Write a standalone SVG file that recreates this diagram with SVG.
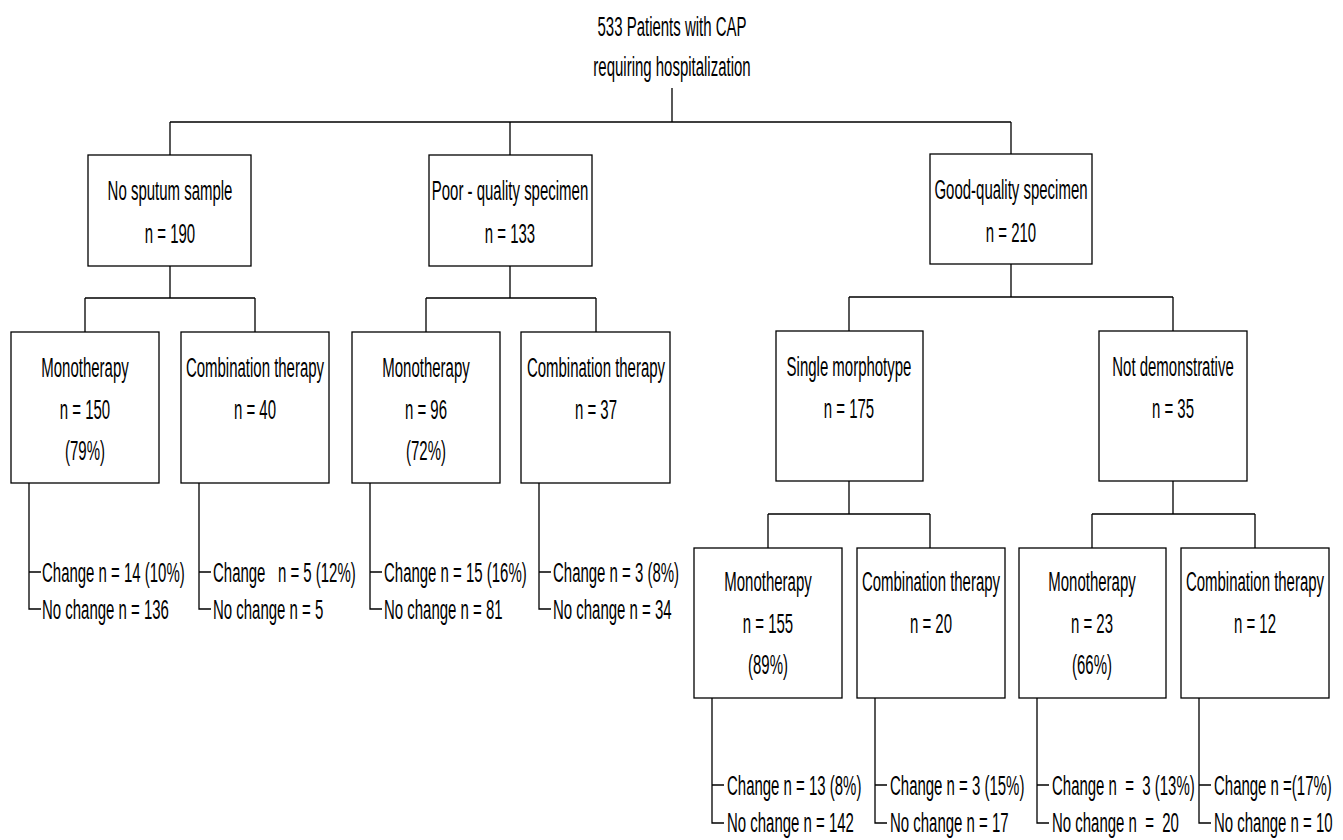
<svg xmlns="http://www.w3.org/2000/svg" width="1343" height="840" viewBox="0 0 1343 840">
<style>
.t{font-family:"Liberation Sans",Arial,sans-serif;font-size:28px;fill:#000;white-space:pre}
.c{text-anchor:middle}
.box{fill:#fff;stroke:#000;stroke-width:1.3}
.ln{fill:none;stroke:#000;stroke-width:1.3}
</style>
<rect width="1343" height="840" fill="#fff"/>
<g id="connectors">
<path class="ln" d="M672 88V122M170 122H1011M170 122V155M510 122V155M1011 122V154"/>
<path class="ln" d="M170 266V298M85 298H255M85 298V332M255 298V332"/>
<path class="ln" d="M510 266V298M426 298H596M426 298V332M596 298V332"/>
<path class="ln" d="M1011 264V297M849 297H1173M849 297V331M1173 297V331"/>
<path class="ln" d="M849 481V514M768 514H930M768 514V548M930 514V548"/>
<path class="ln" d="M1173 481V514M1092 514H1255M1092 514V548M1255 514V548"/>
<path class="ln" d="M29 483V609H41M29 572H41M199 483V609H211M199 572H211M370 483V609H382M370 572H382M539 483V609H551M539 572H551"/>
<path class="ln" d="M712 698V823H724M712 785H724M875 698V823H887M875 785H887M1037 698V823H1049M1037 785H1049M1199 698V823H1211M1199 785H1211"/>
</g>
<g id="title">
<text class="t c" transform="translate(672 36) scale(0.535 1)">533 Patients with CAP</text>
<text class="t c" transform="translate(672 76) scale(0.535 1)">requiring hospitalization</text>
</g>
<g id="no-sputum">
<rect class="box" x="88" y="155" width="163" height="111"/>
<text class="t c" transform="translate(170 200) scale(0.535 1)">No sputum sample</text>
<text class="t c" transform="translate(170 243) scale(0.535 1)">n = 190</text>
</g>
<g id="poor-quality">
<rect class="box" x="429" y="155" width="163" height="111"/>
<text class="t c" transform="translate(510 200) scale(0.535 1)">Poor - quality specimen</text>
<text class="t c" transform="translate(510 243) scale(0.535 1)">n = 133</text>
</g>
<g id="good-quality">
<rect class="box" x="930" y="154" width="162" height="110"/>
<text class="t c" transform="translate(1011 199) scale(0.535 1)">Good-quality specimen</text>
<text class="t c" transform="translate(1011 242) scale(0.535 1)">n = 210</text>
</g>
<g id="mono1">
<rect class="box" x="11" y="332" width="148" height="151"/>
<text class="t c" transform="translate(85 377) scale(0.535 1)">Monotherapy</text>
<text class="t c" transform="translate(85 419) scale(0.535 1)">n = 150</text>
<text class="t c" transform="translate(85 460) scale(0.535 1)">(79%)</text>
</g>
<g id="combo1">
<rect class="box" x="181" y="332" width="148" height="151"/>
<text class="t c" transform="translate(255 377) scale(0.535 1)">Combination therapy</text>
<text class="t c" transform="translate(255 419) scale(0.535 1)">n = 40</text>
</g>
<g id="mono2">
<rect class="box" x="352" y="332" width="148" height="151"/>
<text class="t c" transform="translate(426 377) scale(0.535 1)">Monotherapy</text>
<text class="t c" transform="translate(426 419) scale(0.535 1)">n = 96</text>
<text class="t c" transform="translate(426 460) scale(0.535 1)">(72%)</text>
</g>
<g id="combo2">
<rect class="box" x="521" y="332" width="149" height="151"/>
<text class="t c" transform="translate(596 377) scale(0.535 1)">Combination therapy</text>
<text class="t c" transform="translate(596 419) scale(0.535 1)">n = 37</text>
</g>
<g id="single">
<rect class="box" x="776" y="331" width="147" height="150"/>
<text class="t c" transform="translate(849 376) scale(0.535 1)">Single morphotype</text>
<text class="t c" transform="translate(849 418) scale(0.535 1)">n = 175</text>
</g>
<g id="notdemo">
<rect class="box" x="1099" y="331" width="148" height="150"/>
<text class="t c" transform="translate(1173 376) scale(0.535 1)">Not demonstrative</text>
<text class="t c" transform="translate(1173 418) scale(0.535 1)">n = 35</text>
</g>
<g id="mono3">
<rect class="box" x="694" y="548" width="148" height="150"/>
<text class="t c" transform="translate(768 591) scale(0.535 1)">Monotherapy</text>
<text class="t c" transform="translate(768 633) scale(0.535 1)">n = 155</text>
<text class="t c" transform="translate(768 674) scale(0.535 1)">(89%)</text>
</g>
<g id="combo3">
<rect class="box" x="857" y="548" width="148" height="150"/>
<text class="t c" transform="translate(931 591) scale(0.535 1)">Combination therapy</text>
<text class="t c" transform="translate(931 633) scale(0.535 1)">n = 20</text>
</g>
<g id="mono4">
<rect class="box" x="1019" y="548" width="147" height="150"/>
<text class="t c" transform="translate(1092 591) scale(0.535 1)">Monotherapy</text>
<text class="t c" transform="translate(1092 633) scale(0.535 1)">n = 23</text>
<text class="t c" transform="translate(1092 674) scale(0.535 1)">(66%)</text>
</g>
<g id="combo4">
<rect class="box" x="1181" y="548" width="148" height="150"/>
<text class="t c" transform="translate(1255 591) scale(0.535 1)">Combination therapy</text>
<text class="t c" transform="translate(1255 633) scale(0.535 1)">n = 12</text>
</g>
<g id="outcomes">
<text class="t" transform="translate(42 582) scale(0.535 1)">Change n = 14 (10%)</text>
<text class="t" transform="translate(42 619) scale(0.535 1)">No change n = 136</text>
<text class="t" transform="translate(213 582) scale(0.535 1)">Change   n = 5 (12%)</text>
<text class="t" transform="translate(213 619) scale(0.535 1)">No change n = 5</text>
<text class="t" transform="translate(384 582) scale(0.535 1)">Change n = 15 (16%)</text>
<text class="t" transform="translate(384 619) scale(0.535 1)">No change n = 81</text>
<text class="t" transform="translate(553 582) scale(0.535 1)">Change n = 3 (8%)</text>
<text class="t" transform="translate(553 619) scale(0.535 1)">No change n = 34</text>
<text class="t" transform="translate(727 795) scale(0.535 1)">Change n = 13 (8%)</text>
<text class="t" transform="translate(727 832) scale(0.535 1)">No change n = 142</text>
<text class="t" transform="translate(890 795) scale(0.535 1)">Change n = 3 (15%)</text>
<text class="t" transform="translate(890 832) scale(0.535 1)">No change n = 17</text>
<text class="t" transform="translate(1052 795) scale(0.535 1)">Change n  =  3 (13%)</text>
<text class="t" transform="translate(1052 832) scale(0.535 1)">No change n  =  20</text>
<text class="t" transform="translate(1214 795) scale(0.535 1)">Change n =(17%)</text>
<text class="t" transform="translate(1214 832) scale(0.535 1)">No change n = 10</text>
</g>
</svg>
